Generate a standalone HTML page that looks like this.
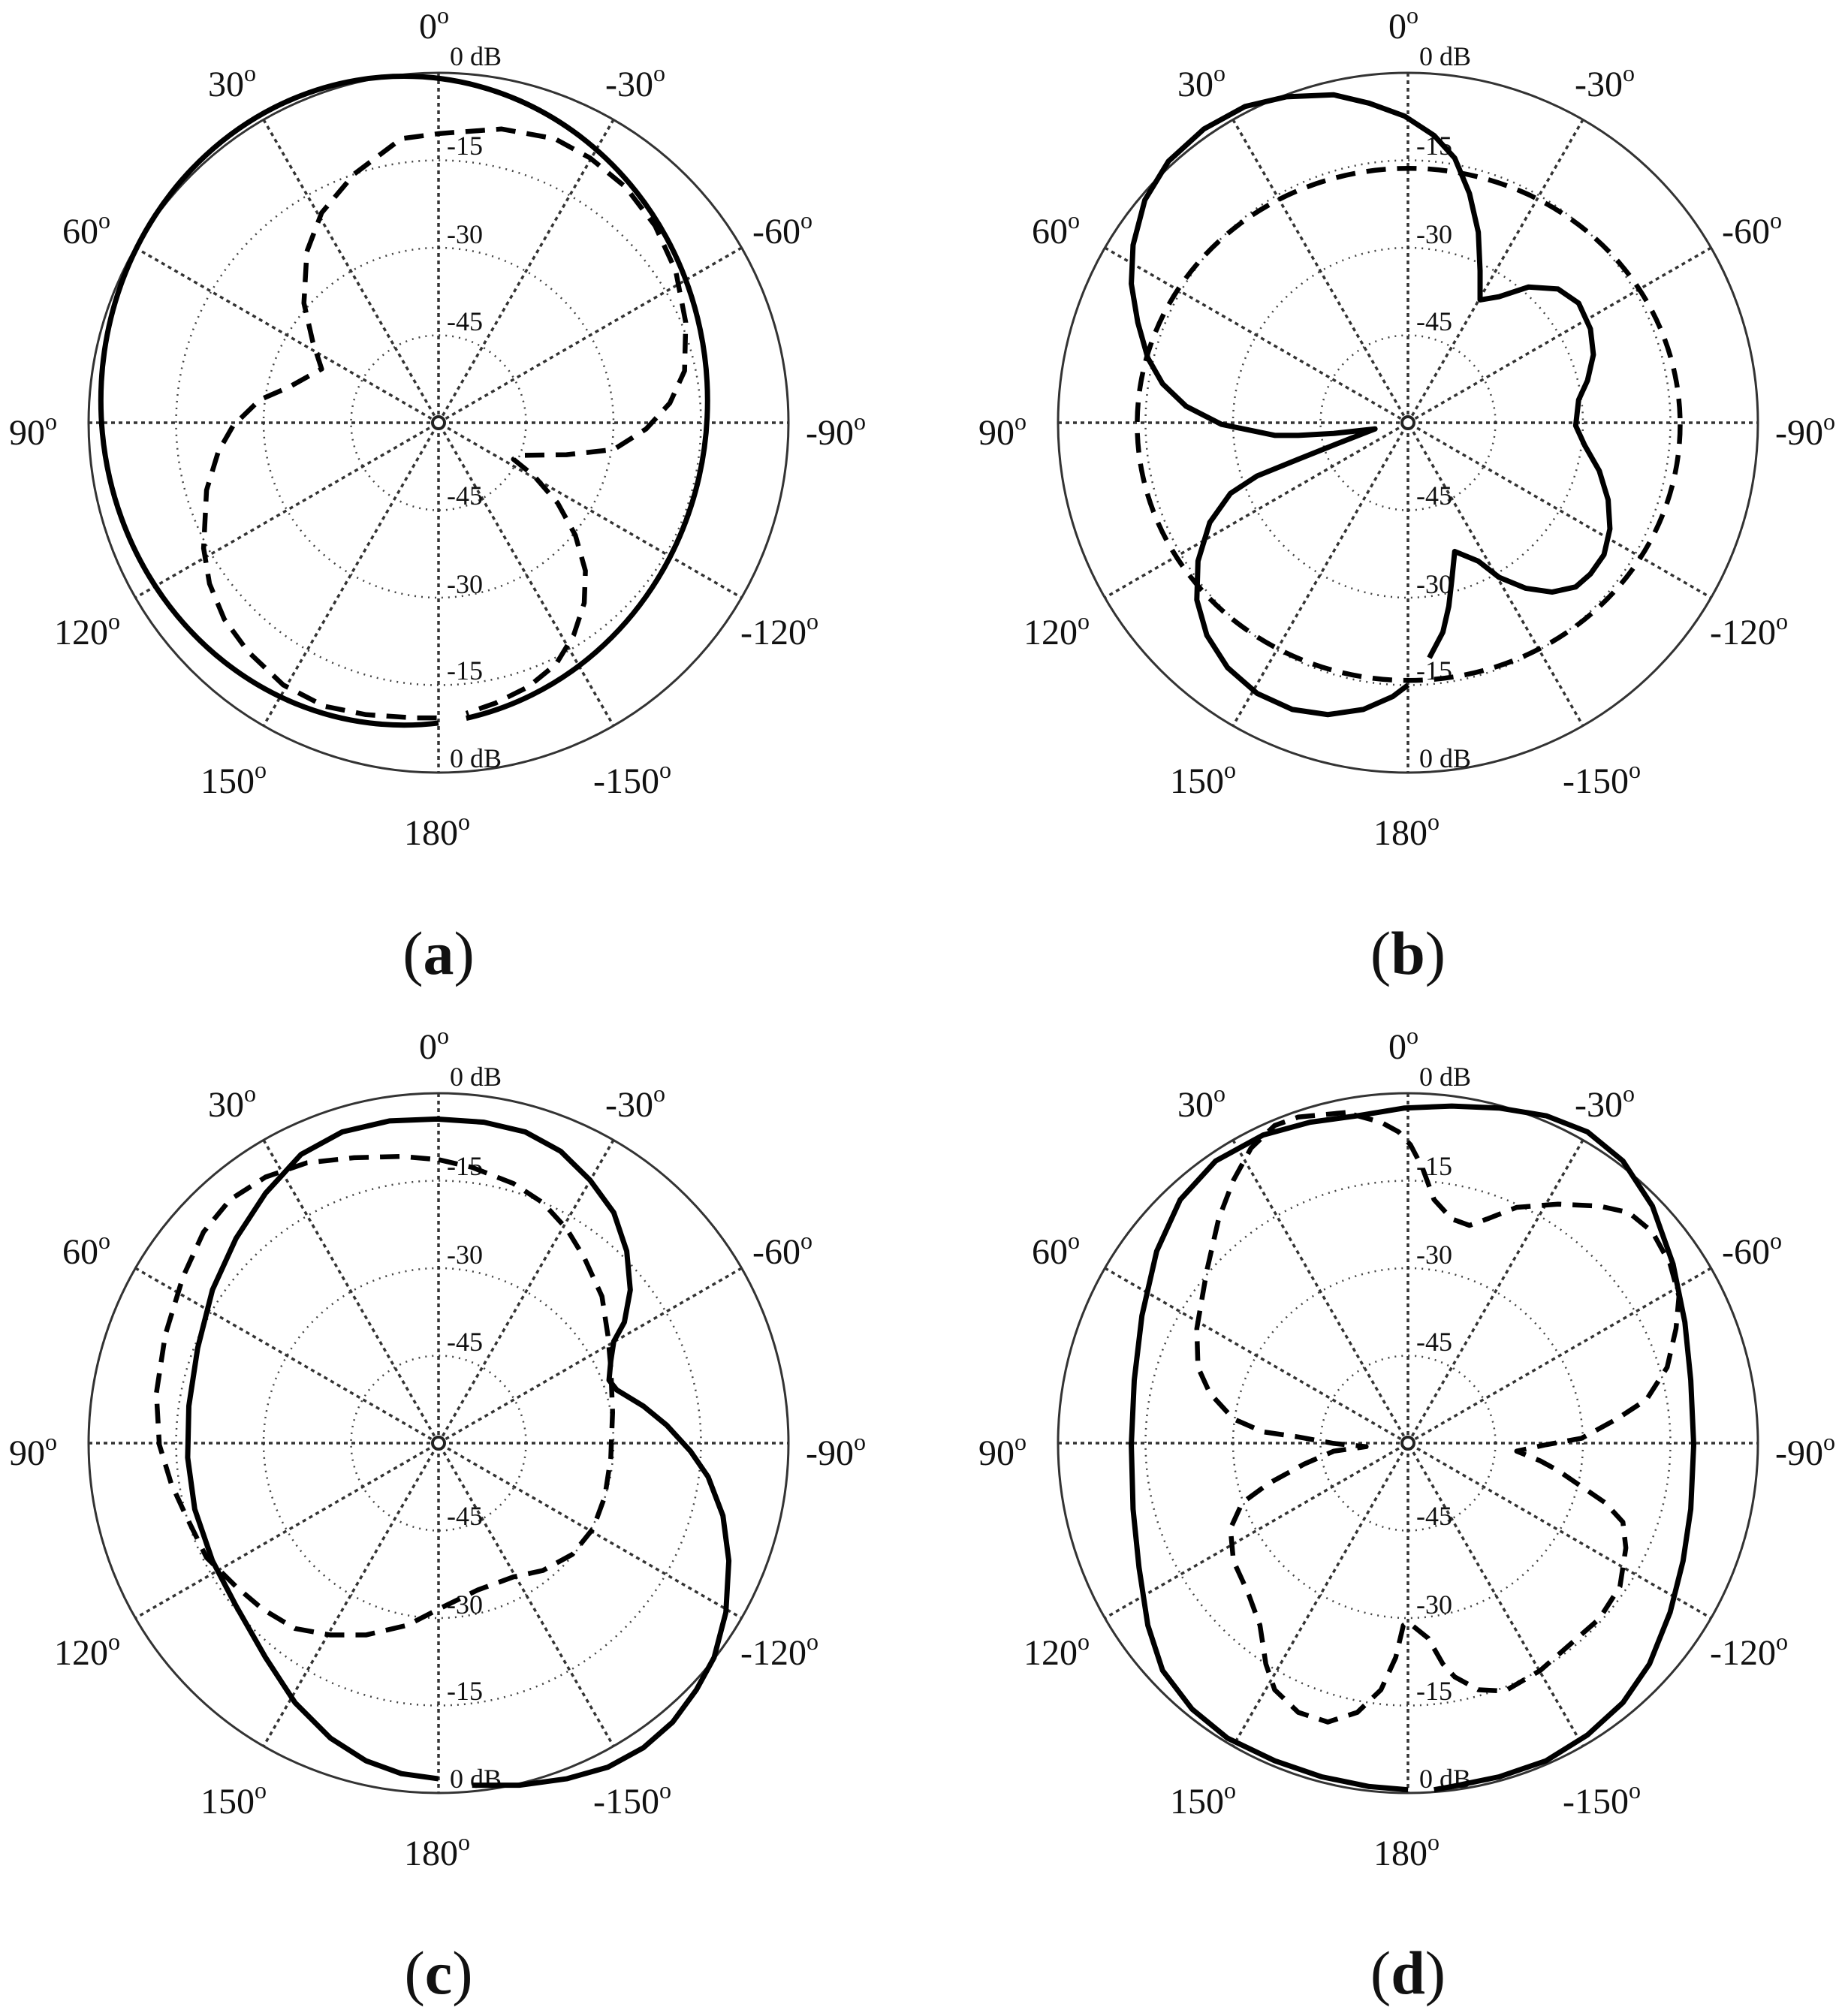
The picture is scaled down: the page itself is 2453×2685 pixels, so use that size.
<!DOCTYPE html>
<html><head><meta charset="utf-8"><style>html,body{margin:0;padding:0;background:#fff}svg{display:block}</style></head>
<body>
<svg xmlns="http://www.w3.org/2000/svg" width="2453" height="2685" viewBox="0 0 2453 2685">
<defs>
<g id="grid">
<circle r="466" fill="none" stroke="#333" stroke-width="3"/>
<g fill="none" stroke="#444" stroke-width="2.5" stroke-dasharray="2 7">
<circle r="349.5"/><circle r="233"/><circle r="116.5"/>
</g>
<g stroke="#333" stroke-width="3.5" stroke-dasharray="5 5">
<line x1="0" y1="-466" x2="0" y2="466"/>
<line x1="-466" y1="0" x2="466" y2="0"/>
<line x1="-233" y1="-403.6" x2="233" y2="403.6"/>
<line x1="233" y1="-403.6" x2="-233" y2="403.6"/>
<line x1="-403.6" y1="-233" x2="403.6" y2="233"/>
<line x1="403.6" y1="-233" x2="-403.6" y2="233"/>
</g>
<circle r="8" fill="#fff" stroke="#222" stroke-width="4"/>
<g font-family="Liberation Serif, serif" fill="#111">
<g font-size="48">
<text x="-26" y="-512">0<tspan font-size="32" dy="-20">o</tspan></text>
<text x="-307" y="-435">30<tspan font-size="32" dy="-20">o</tspan></text>
<text x="222" y="-435">-30<tspan font-size="32" dy="-20">o</tspan></text>
<text x="-501" y="-239">60<tspan font-size="32" dy="-20">o</tspan></text>
<text x="418" y="-239">-60<tspan font-size="32" dy="-20">o</tspan></text>
<text x="-572" y="29">90<tspan font-size="32" dy="-20">o</tspan></text>
<text x="489" y="29">-90<tspan font-size="32" dy="-20">o</tspan></text>
<text x="-512" y="295">120<tspan font-size="32" dy="-20">o</tspan></text>
<text x="402" y="295">-120<tspan font-size="32" dy="-20">o</tspan></text>
<text x="-317" y="493">150<tspan font-size="32" dy="-20">o</tspan></text>
<text x="206" y="493">-150<tspan font-size="32" dy="-20">o</tspan></text>
<text x="-46" y="562">180<tspan font-size="32" dy="-20">o</tspan></text>
</g>
<g font-size="36">
<text x="15" y="-476">0 dB</text>
<text x="15" y="459">0 dB</text>
<text x="11" y="-357">-15</text>
<text x="11" y="-239">-30</text>
<text x="11" y="-123">-45</text>
<text x="11" y="109">-45</text>
<text x="11" y="227">-30</text>
<text x="11" y="342">-15</text>
</g>
</g>
</g>
</defs>

<use href="#grid" transform="translate(584,563)"/>
<use href="#grid" transform="translate(1875,563)"/>
<use href="#grid" transform="translate(584,1922)"/>
<use href="#grid" transform="translate(1875,1922)"/>

<g font-family="Liberation Serif, serif" font-size="82" fill="#111" text-anchor="middle">
<text x="584" y="1297">(<tspan font-weight="bold">a</tspan>)</text>
<text x="1875" y="1297">(<tspan font-weight="bold">b</tspan>)</text>
<text x="584" y="2655">(<tspan font-weight="bold">c</tspan>)</text>
<text x="1875" y="2655">(<tspan font-weight="bold">d</tspan>)</text>
</g>

<!-- (a) -->
<g transform="translate(0,0) scale(0.7859,0.859)" fill="none" stroke="#000" stroke-linejoin="round">
<path vector-effect="non-scaling-stroke" stroke-width="7" d="M743 1121 A514 503 0 1 1 790 1113.6"/>
<path vector-effect="non-scaling-stroke" stroke-width="6.5" stroke-dasharray="26 15" d="M740 1113 L700 1113 L620 1108 L550 1095 L480 1062 L420 1010 L380 960 L355 905 L345 850 L350 760 L370 700 L395 660 L440 620 L490 600 L545 572 L530 530 L515 470 L520 390 L545 330 L600 270 L680 215 L745 207 L850 200 L940 215 L1000 245 L1060 290 L1110 350 L1145 420 L1162 500 L1160 575 L1135 625 L1095 665 L1040 697 L960 705 L880 706 L870 712 L905 738 L945 780 L975 830 L992 885 L990 935 L972 985 L942 1030 L895 1065 L840 1090 L790 1106"/>
</g>

<!-- (b) -->
<g transform="translate(1226,0) scale(0.7859,0.859)" fill="none" stroke="#000" stroke-linejoin="round">
<path vector-effect="non-scaling-stroke" stroke-width="7" d="M826 1062 L800 1080 L750 1100 L690 1108 L630 1100 L570 1075 L520 1035 L485 985 L468 930 L470 870 L490 810 L525 765 L570 738 L640 712 L700 690 L770 665 L700 672 L640 675 L600 675 L510 658 L450 630 L410 595 L385 555 L368 500 L357 440 L360 380 L380 310 L420 250 L480 200 L550 165 L620 150 L700 147 L760 160 L820 180 L870 210 L905 245 L930 300 L945 360 L948 420 L948 465 L980 460 L1030 445 L1080 448 L1115 470 L1135 510 L1140 550 L1130 590 L1115 620 L1110 660 L1125 690 L1150 730 L1165 775 L1168 820 L1158 860 L1135 890 L1110 910 L1070 918 L1025 912 L980 895 L945 870 L905 855 L900 900 L895 940 L885 980 L862 1020"/>
<ellipse vector-effect="non-scaling-stroke" stroke-width="6.5" stroke-dasharray="26 15" cx="827" cy="658" rx="460" ry="397"/>
</g>

<!-- (c) -->
<g transform="translate(0,1340) scale(0.7859,0.859)" fill="none" stroke="#000" stroke-linejoin="round">
<path vector-effect="non-scaling-stroke" stroke-width="7" d="M743 1198 L680 1190 L620 1170 L560 1135 L500 1080 L450 1010 L400 930 L360 860 L330 780 L318 700 L320 620 L335 530 L360 440 L400 360 L450 290 L510 230 L580 195 L660 178 L740 175 L820 180 L890 195 L950 225 L1000 270 L1040 320 L1062 380 L1068 440 L1058 490 L1040 520 L1035 550 L1032 580 L1045 595 L1090 620 L1130 650 L1170 690 L1200 730 L1225 790 L1235 860 L1230 940 L1210 1010 L1180 1060 L1140 1110 L1090 1150 L1030 1180 L960 1198 L880 1208 L800 1208"/>
<path vector-effect="non-scaling-stroke" stroke-width="6.5" stroke-dasharray="26 15" d="M743 238 L800 250 L870 275 L920 305 L960 345 L990 390 L1020 450 L1030 510 L1035 560 L1038 630 L1035 700 L1025 760 L1005 810 L970 850 L920 875 L870 885 L810 905 L743 935 L690 960 L620 975 L560 975 L500 965 L445 935 L400 900 L350 855 L315 790 L290 740 L270 680 L265 600 L280 510 L310 420 L345 350 L390 300 L450 265 L520 243 L600 235 L680 233 Z"/>
</g>

<!-- (d) -->
<g transform="translate(1226,1340) scale(0.7859,0.859)" fill="none" stroke="#000" stroke-linejoin="round">
<path vector-effect="non-scaling-stroke" stroke-width="7" d="M826 1215 L760 1210 L680 1195 L600 1170 L520 1135 L460 1090 L410 1030 L385 960 L370 870 L360 780 L357 680 L362 580 L375 480 L400 380 L440 300 L500 240 L580 200 L660 180 L740 170 L820 158 L900 155 L980 158 L1060 170 L1130 195 L1190 240 L1240 310 L1275 400 L1295 490 L1305 580 L1310 680 L1305 780 L1292 860 L1270 940 L1235 1020 L1190 1080 L1130 1130 L1060 1170 L980 1195 L900 1210 L870 1215"/>
<path vector-effect="non-scaling-stroke" stroke-width="6.5" stroke-dasharray="26 15" d="M720 165 L640 172 L600 185 L560 220 L530 270 L505 330 L485 410 L468 500 L470 560 L490 600 L530 640 L580 660 L640 668 L700 678 L755 683 L700 690 L650 710 L590 740 L545 770 L525 810 L530 860 L555 910 L575 960 L585 1020 L600 1060 L640 1095 L690 1110 L740 1095 L780 1060 L805 1010 L818 960 L826 955 L860 980 L885 1020 L905 1040 L945 1060 L990 1062 L1050 1030 L1100 990 L1150 950 L1185 900 L1195 840 L1190 800 L1160 770 L1120 745 L1080 720 L1050 705 L1010 690 L1060 680 L1120 670 L1180 640 L1230 610 L1265 560 L1280 500 L1285 450 L1270 400 L1240 350 L1200 320 L1150 310 L1080 307 L1010 312 L960 330 L930 340 L900 330 L870 300 L850 250 L830 215 L810 195 L780 180 Z"/>
</g>
</svg>
</body></html>
